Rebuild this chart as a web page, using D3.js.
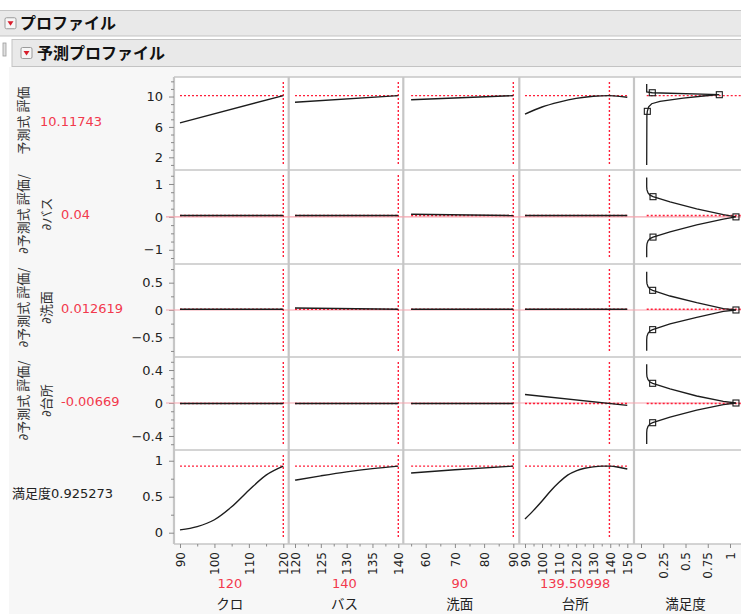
<!DOCTYPE html>
<html>
<head>
<meta charset="utf-8">
<script src="https://cdn.jsdelivr.net/npm/d3@7"></script>
<style>
    body { margin: 0; background: #fff; }
    svg { display: block; font-family: "DejaVu Sans", sans-serif; }
    .jp { font-family: "Noto Sans CJK JP", sans-serif; }
    .dv { font-family: "DejaVu Sans", sans-serif; }
</style>
</head>
<body>
<svg id="chart" width="741" height="614"></svg>
<script>
// ----- DATA -----

// factors (one column each)
var factorNames = ["クロ", "バス", "洗面", "台所"];
var factorCurrent = [120, 140, 90, 139.50998];
var factorCurrentText = ["120", "140", "90", "139.50998"];
var factorRange = [[90, 120], [120, 140], [55, 90], [90, 150]];
var factorDomain = [[88.26, 121.57], [118.78, 140.97], [52.33, 92.05], [86.66, 153.93]];
var factorTicks = [[90, 100, 110, 120], [120, 125, 130, 135, 140], [60, 70, 80, 90], [90, 100, 110, 120, 130, 140, 150]];
var factorMinor = [[95, 105, 115], [122.5, 127.5, 132.5, 137.5], [55, 65, 75, 85], [95, 105, 115, 125, 135, 145]];

// desirability column
var desirName = "満足度";
var desirDomain = [-0.0787, 1.2135];
var desirTicks = [0, 0.25, 0.5, 0.75, 1];

// responses (one row each)
var rowTitles = [["予測式 評価"], ["∂予測式 評価/", "∂バス"], ["∂予測式 評価/", "∂洗面"], ["∂予測式 評価/", "∂台所"]];
var rowCurrent = [10.11743, 0.04, 0.012619, -0.00669, 0.925273];
var rowCurrentText = ["10.11743", "0.04", "0.012619", "-0.00669", "0.925273"];
var rowDomain = [[0.33, 12.57], [-1.432, 1.425], [-0.861, 0.842], [-0.57, 0.558], [-0.157, 1.149]];
var rowTicks = [[2, 6, 10], [-1, 0, 1], [-0.5, 0, 0.5], [-0.4, 0, 0.4], [0, 0.5, 1]];
var rowMinor = [
    [1, 3, 4, 5, 7, 8, 9, 11, 12],
    [-1.25, -0.75, -0.5, -0.25, 0.25, 0.5, 0.75, 1.25],
    [-0.75, -0.25, 0.25, 0.75],
    [-0.5, -0.3, -0.2, -0.1, 0.1, 0.2, 0.3, 0.5],
    [0.25, 0.75]
];

// profile traces [factor value, response]
var hyoka = [
    [[90, 6.54], [120, 10.12]],
    [[120, 9.24], [140, 10.12]],
    [[55, 9.58], [90, 10.12]],
    [[90, 7.69], [100, 8.62], [110, 9.26], [120, 9.75], [130, 10.03], [139.5, 10.12], [150, 9.9]]
];
var dBath = [
    [[90, 0.04], [120, 0.04]],
    [[120, 0.04], [140, 0.04]],
    [[55, 0.08], [90, 0.04]],
    [[90, 0.04], [150, 0.04]]
];
var dSenmen = [
    [[90, 0.0126], [120, 0.0126]],
    [[120, 0.035], [140, 0.0126]],
    [[55, 0.0126], [90, 0.0126]],
    [[90, 0.0126], [150, 0.0126]]
];
var dDaidokoro = [
    [[90, -0.0067], [120, -0.0067]],
    [[120, -0.0067], [140, -0.0067]],
    [[55, -0.0067], [90, -0.0067]],
    [[90, 0.104], [150, -0.029]]
];
var manzoku = [
    [[90, 0.04], [95, 0.085], [100, 0.18], [105, 0.36], [110, 0.59], [115, 0.80], [120, 0.925]],
    [[120, 0.73], [125, 0.79], [130, 0.845], [135, 0.89], [140, 0.925]],
    [[55, 0.83], [70, 0.875], [90, 0.925]],
    [[90, 0.19], [95, 0.31], [100, 0.44], [105, 0.58], [110, 0.70], [115, 0.80], [120, 0.86],
     [125, 0.895], [130, 0.915], [135, 0.925], [140, 0.925], [145, 0.91], [150, 0.885]]
];

// desirability functions [response, desirability]
var desirHyoka = [[1.0, 0.064], [7.5, 0.066], [8.05, 0.071], [8.65, 0.086], [9.05, 0.12], [9.37, 0.213],
    [9.8, 0.475], [10.07, 0.7], [10.24, 0.88], [10.5, 0.127], [10.6, 0.064], [11.65, 0.064]];
var desirBath = [[-1.23, 0.064], [-0.92, 0.064], [-0.82, 0.067], [-0.73, 0.079], [-0.66, 0.101], [-0.614, 0.135],
    [-0.453, 0.326], [-0.24, 0.626], [-0.067, 0.925], [0, 1.067], [0.067, 0.925], [0.24, 0.626],
    [0.453, 0.326], [0.614, 0.135], [0.66, 0.101], [0.73, 0.079], [0.82, 0.067], [0.92, 0.064], [1.2, 0.064]];
var desirSenmen = [[-0.745, 0.064], [-0.544, 0.064], [-0.482, 0.067], [-0.427, 0.079], [-0.385, 0.101], [-0.36, 0.131],
    [-0.256, 0.326], [-0.134, 0.626], [-0.024, 0.925], [0, 1.067], [0.024, 0.925], [0.134, 0.626],
    [0.256, 0.326], [0.36, 0.131], [0.385, 0.101], [0.427, 0.079], [0.482, 0.067], [0.544, 0.064], [0.70, 0.064]];
var desirDaidokoro = [[-0.497, 0.064], [-0.36, 0.064], [-0.319, 0.067], [-0.282, 0.079], [-0.255, 0.101], [-0.239, 0.131],
    [-0.17, 0.326], [-0.085, 0.626], [-0.02, 0.925], [0, 1.067], [0.02, 0.925], [0.085, 0.626],
    [0.17, 0.326], [0.239, 0.131], [0.255, 0.101], [0.282, 0.079], [0.319, 0.067], [0.36, 0.064], [0.47, 0.064]];
var desirMarkers = [
    [[8.05, 0.071], [10.24, 0.88], [10.5, 0.127]],
    [[-0.614, 0.135], [0, 1.067], [0.614, 0.135]],
    [[-0.36, 0.131], [0, 1.067], [0.36, 0.131]],
    [[-0.239, 0.131], [0, 1.067], [0.239, 0.131]]
];

var profiles = [hyoka, dBath, dSenmen, dDaidokoro, manzoku];
var desirCurves = [desirHyoka, desirBath, desirSenmen, desirDaidokoro];

// ----- LAYOUT -----

var W = 741, H = 614;
var colX = [174, 288.7, 403.3, 519.3, 634, 749];
var rowY = [77, 170, 264, 357, 450, 544];
var red = "#f2394d", dashRed = "#ff1f3a", gridCol = "#c6c6c6", ink = "#1c1c1c";

var svg = d3.select("#chart");

// ----- HEADERS -----

svg.append("rect").attr("x", 9).attr("y", 67).attr("width", W).attr("height", H).attr("fill", "#f7f7f7");

function header(x, y, h, title, iconX, textX) {
    svg.append("rect").attr("x", x).attr("y", y).attr("width", W - x + 2).attr("height", h)
        .attr("fill", "#e9e9e9").attr("stroke", "#c3c3c3").attr("stroke-width", 1);
    var cy = y + h / 2;
    svg.append("rect").attr("x", iconX).attr("y", cy - 5.5).attr("width", 11).attr("height", 11)
        .attr("rx", 1.5).attr("fill", "#f6f6f6").attr("stroke", "#9a9a9a");
    svg.append("path")
        .attr("d", "M" + (iconX + 2.5) + "," + (cy - 2) + " L" + (iconX + 8.5) + "," + (cy - 2) + " L" + (iconX + 5.5) + "," + (cy + 2.5) + " Z")
        .attr("fill", "#d81e2c");
    svg.append("text").attr("class", "jp").attr("x", textX).attr("y", cy)
        .attr("dy", "0.36em").attr("font-size", 16).attr("font-weight", "bold").attr("fill", "#111")
        .text(title);
}
header(-2, 10.5, 25.5, "プロファイル", 5, 20);
header(12, 39.5, 27, "予測プロファイル", 21, 37);
svg.append("rect").attr("x", 3).attr("y", 43).attr("width", 3).attr("height", 13)
    .attr("fill", "#e0e0e0").attr("stroke", "#9c9c9c").attr("stroke-width", 0.8);

// ----- PLOT FRAME -----

svg.append("rect").attr("x", colX[0]).attr("y", rowY[0])
    .attr("width", colX[5] - colX[0]).attr("height", rowY[5] - rowY[0]).attr("fill", "#fff");

var xScales = factorDomain.map(function(d, i) {
    return d3.scaleLinear().domain(d).range([colX[i], colX[i + 1]]);
});
var dScale = d3.scaleLinear().domain(desirDomain).range([colX[4], colX[5]]);
var yScales = rowDomain.map(function(d, r) {
    return d3.scaleLinear().domain(d).range([rowY[r + 1], rowY[r]]);
});

rowY.forEach(function(y) {
    svg.append("line").attr("x1", colX[0]).attr("x2", W + 5).attr("y1", y).attr("y2", y)
        .attr("stroke", gridCol).attr("stroke-width", 1.6);
});
colX.forEach(function(x) {
    svg.append("line").attr("x1", x).attr("x2", x).attr("y1", rowY[0]).attr("y2", rowY[5])
        .attr("stroke", gridCol).attr("stroke-width", 2.2);
});

// ----- AXES -----

function styleAxis(g, size) {
    g.attr("font-size", size).attr("font-family", "DejaVu Sans");
    g.select(".domain").remove();
    g.selectAll(".tick line").attr("stroke", "#8a8a8a");
    g.selectAll(".tick text").attr("fill", "#222");
}

yScales.forEach(function(ys, r) {
    svg.append("g").attr("transform", "translate(" + colX[0] + ",0)")
        .call(d3.axisLeft(ys).tickValues(rowMinor[r]).tickSize(3).tickFormat(""))
        .call(styleAxis, 13);
    svg.append("g").attr("transform", "translate(" + colX[0] + ",0)")
        .call(d3.axisLeft(ys).tickValues(rowTicks[r]).tickSize(5).tickPadding(6).tickFormat(d3.format("")))
        .call(styleAxis, 13);
});

function bottomAxis(scale, ticks, minor) {
    svg.append("g").attr("transform", "translate(0," + rowY[5] + ")")
        .call(d3.axisBottom(scale).tickValues(minor).tickSize(2.5).tickFormat(""))
        .call(styleAxis, 12);
    var g = svg.append("g").attr("transform", "translate(0," + rowY[5] + ")")
        .call(d3.axisBottom(scale).tickValues(ticks).tickSize(4).tickFormat(d3.format("")))
        .call(styleAxis, 12);
    g.selectAll(".tick text")
        .attr("transform", "rotate(-90)")
        .attr("text-anchor", "end")
        .attr("x", -8).attr("y", 0).attr("dy", "0.35em");
}
xScales.forEach(function(xs, c) {
    bottomAxis(xs, factorTicks[c], factorMinor[c]);
});
bottomAxis(dScale, desirTicks, []);

// ----- REFERENCE LINES -----

// zero lines in derivative rows
[1, 2, 3].forEach(function(r) {
    svg.append("line").attr("x1", 166).attr("x2", W).attr("y1", yScales[r](0)).attr("y2", yScales[r](0))
        .attr("stroke", "#f5a3ad").attr("stroke-width", 1.2);
});

profiles.forEach(function(rowData, r) {
    var ys = yScales[r];
    var yc = ys(rowCurrent[r]);
    xScales.forEach(function(xs, c) {
        svg.append("line")
            .attr("x1", xs(factorRange[c][0])).attr("x2", xs(factorRange[c][1]))
            .attr("y1", yc).attr("y2", yc)
            .attr("stroke", dashRed).attr("stroke-width", 1.4).attr("stroke-dasharray", "2,2");
        svg.append("line")
            .attr("x1", xs(factorCurrent[c])).attr("x2", xs(factorCurrent[c]))
            .attr("y1", rowY[r] + 5).attr("y2", rowY[r + 1] - 5)
            .attr("stroke", dashRed).attr("stroke-width", 1.4).attr("stroke-dasharray", "2,2");
    });
    if (r < 4) {
        svg.append("line").attr("x1", dScale(0.064)).attr("x2", W).attr("y1", yc).attr("y2", yc)
            .attr("stroke", dashRed).attr("stroke-width", 1.4).attr("stroke-dasharray", "2,2");
    }
});

// ----- CURVES -----

profiles.forEach(function(rowData, r) {
    var ys = yScales[r];
    rowData.forEach(function(pts, c) {
        var xs = xScales[c];
        var line = d3.line().x(function(d) { return xs(d[0]); }).y(function(d) { return ys(d[1]); })
            .curve(d3.curveMonotoneX);
        svg.append("path").attr("d", line(pts)).attr("fill", "none")
            .attr("stroke", ink).attr("stroke-width", 1.4);
    });
});

desirCurves.forEach(function(pts, r) {
    var ys = yScales[r];
    var line = d3.line().x(function(d) { return dScale(d[1]); }).y(function(d) { return ys(d[0]); });
    svg.append("path").attr("d", line(pts)).attr("fill", "none")
        .attr("stroke", ink).attr("stroke-width", 1.3);
    svg.selectAll(null).data(desirMarkers[r]).enter().append("rect")
        .attr("x", function(d) { return dScale(d[1]) - 3; })
        .attr("y", function(d) { return ys(d[0]) - 3; })
        .attr("width", 6).attr("height", 6)
        .attr("fill", "none").attr("stroke", ink).attr("stroke-width", 1.1);
});

// ----- LABELS -----

// the partial sign is set in DejaVu so it sits tight against the CJK text
function jpText(sel, str) {
    if (str.charAt(0) === "∂") {
        sel.append("tspan").attr("class", "dv").text("∂");
        sel.append("tspan").attr("class", "jp").text(str.slice(1));
    } else {
        sel.append("tspan").attr("class", "jp").text(str);
    }
}

var labelX = [23, 46.5];
rowTitles.forEach(function(lines, r) {
    var cy = (rowY[r] + rowY[r + 1]) / 2 - 3;
    lines.forEach(function(t, i) {
        var txt = svg.append("text")
            .attr("transform", "translate(" + labelX[i] + "," + cy + ") rotate(-90)")
            .attr("text-anchor", "middle").attr("dy", "0.35em")
            .attr("font-size", 13).attr("fill", "#333");
        jpText(txt, t);
    });
    svg.append("text")
        .attr("x", lines.length > 1 ? 61 : 40).attr("y", cy + 0.5).attr("dy", "0.35em")
        .attr("font-size", 13).attr("fill", red).text(rowCurrentText[r]);
});

var lastY = (rowY[4] + rowY[5]) / 2 - 3.5;
var dl = svg.append("text").attr("x", 12).attr("y", lastY).attr("dy", "0.35em")
    .attr("font-size", 13).attr("fill", "#222");
dl.append("tspan").attr("class", "jp").text(desirName);
dl.append("tspan").text(rowCurrentText[4]);

factorNames.forEach(function(name, c) {
    var cx = (colX[c] + colX[c + 1]) / 2 - 1.5;
    svg.append("text").attr("x", cx).attr("y", 583).attr("dy", "0.35em")
        .attr("text-anchor", "middle").attr("font-size", 13).attr("fill", red)
        .text(factorCurrentText[c]);
    svg.append("text").attr("class", "jp").attr("x", cx).attr("y", 604).attr("dy", "0.35em")
        .attr("text-anchor", "middle").attr("font-size", 13.5).attr("fill", "#222").text(name);
});
svg.append("text").attr("class", "jp").attr("x", (dScale(0) + dScale(1)) / 2).attr("y", 604).attr("dy", "0.35em")
    .attr("text-anchor", "middle").attr("font-size", 13.5).attr("fill", "#222").text(desirName);
</script>
</body>
</html>
